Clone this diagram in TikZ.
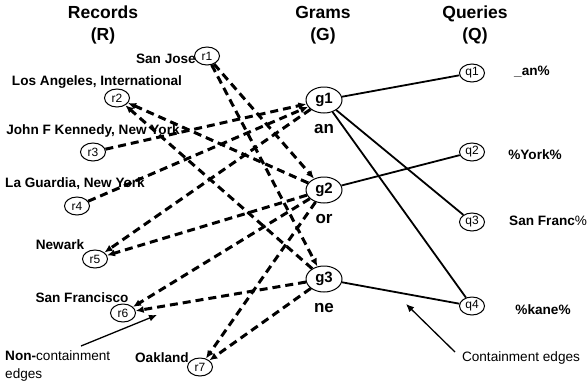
\documentclass[tikz,border=0pt]{standalone}
\usepackage{fontspec}
\setmainfont{Liberation Sans}
\usetikzlibrary{calc,shapes.geometric,arrows.meta}

\begin{document}
\begin{tikzpicture}[x=1pt,y=-1pt,>={Latex[length=8pt,width=7pt]},
	rec/.style={draw,ellipse,line width=1pt,inner sep=0pt,minimum width=25pt,minimum height=18pt,font=\fontsize{12}{14}\selectfont},
	gram/.style={draw,ellipse,line width=1pt,inner sep=0pt,minimum width=36pt,minimum height=26pt,font=\fontsize{15}{17}\selectfont\bfseries},
	head/.style={align=center,inner sep=0pt,font=\fontsize{17.5}{22}\selectfont\bfseries},
	lbl/.style={inner sep=0pt,font=\fontsize{13.6}{16}\selectfont\bfseries},
	glbl/.style={inner sep=0pt,font=\fontsize{17}{20}\selectfont\bfseries},
	note/.style={inner sep=0pt,font=\fontsize{13.6}{18}\selectfont},
	nc/.style={line width=3pt,dash pattern=on 8pt off 5pt},
	ct/.style={line width=1.8pt}]
			\useasboundingbox (0,0) rectangle (588,388);
			
			\node[head](hr) at (103,25) {Records\\(R)};
			\node[head](hg) at (323,25) {Grams\\(G)};
			\node[head](hq) at (475,25) {Queries\\(Q)};
			
			\node[rec](r1) at (207,56) {r1};
			\node[rec](r2) at (117,98) {r2};
			\node[rec](r3) at (93,152) {r3};
			\node[rec](r4) at (77,206) {r4};
			\node[rec](r5) at (95,259) {r5};
			\node[rec](r6) at (123,313) {r6};
			\node[rec](r7) at (200,367) {r7};
			
			\node[lbl,anchor=east] at ($(r1.west)+(2,3)$) (sj) {San Jose};
			\node[lbl] at ($(r2)+(-20,-16)$) (la) {Los Angeles, International};
			\node[lbl] at ($(r3)+(0,-21)$) (jfk) {John F Kennedy, New York};
			\node[lbl] at ($(r4)+(-2,-22)$) (lag) {La Guardia, New York};
			\node[lbl] at ($(r5)+(-35,-14)$) (nw) {Newark};
			\node[lbl] at ($(r6)+(-41,-15)$) (sf) {San Francisco};
			\node[lbl,anchor=east] at ($(r7.west)+(2,-9)$) (oak) {Oakland};
			
			\node[gram](g1) at (324,100) {g1};
			\node[gram](g2) at (324,190) {g2};
			\node[gram](g3) at (324,279) {g3};
			
			\node[glbl] at ($(g1)+(0,29)$) (an) {an};
			\node[glbl] at ($(g2)+(0,29)$) (or) {or};
			\node[glbl] at ($(g3)+(0,29)$) (ne) {ne};
			
			\node[rec](q1) at (472,73) {q1};
			\node[rec](q2) at (472,152) {q2};
			\node[rec](q3) at (472,222) {q3};
			\node[rec](q4) at (472,306) {q4};
			
			\node[lbl] at ($(q1)+(60,-1)$) (qa) {\_an\%};
			\node[lbl] at ($(q2)+(63,3)$) (qb) {\%York\%};
			\node[lbl,anchor=west] at ($(q3)+(37,-1)$) (qc) {San Franc{\mdseries\%}};
			\node[lbl] at ($(q4)+(71,4)$) (qd) {\%kane\%};
			
			%non-containment
			\draw[nc,->] (r1)--(g2);
			\draw[nc,->] (r1)--(g3);
			\draw[nc,->] (g2)--(r2);
			\draw[nc,->] (g3)--(r2);
			\draw[nc,->] (r3)--(g1);
			\draw[nc,->] (r4)--(g1);
			\draw[nc,->] (g1)--(r5);
			\draw[nc,->] (g2)--(r5);
			\draw[nc,->] (g2)--(r6);
			\draw[nc,->] (g3)--(r6);
			\draw[nc,->] (g2)--(r7);
			\draw[nc,->] (g3)--(r7);
			
			%containment
			\draw[ct] (g1)--(q1);
			\draw[ct] (g1)--(q3);
			\draw[ct] (g1)--(q4);
			\draw[ct] (g2)--(q2);
			\draw[ct] (g3)--(q4);
			
			%notes
			\node[note,align=left,anchor=west] at (5,366) (ncl) {{\bfseries Non-}containment\\edges};
			\node[note] at (521,358) (cl) {Containment edges};
			\coordinate (nca) at (81,346);
			\coordinate (ncb) at (157,315);
			\coordinate (cta) at (455,352);
			\coordinate (ctb) at (406,304);
			\draw[->,line width=1.3pt] (nca)--(ncb);
			\draw[->,line width=1.3pt] (cta)--(ctb);
		\end{tikzpicture}
\end{document}
